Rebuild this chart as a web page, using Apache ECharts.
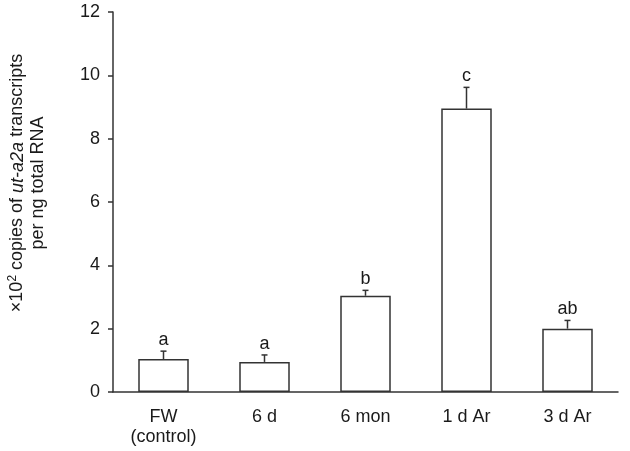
<!DOCTYPE html>
<html>
<head>
<meta charset="utf-8">
<script src="https://cdn.jsdelivr.net/npm/echarts@6/dist/echarts.min.js"></script>
<style>
  html, body { margin: 0; padding: 0; background: #fff; }
  #main { width: 630px; height: 451px; }
</style>
</head>
<body>
<div id="main"></div>
<script>
var groups = ['FW\n(control)', '6 d', '6 mon', '1 d Ar', '3 d Ar'];
var means = [1.04, 0.95, 3.04, 8.95, 2.0];
var errs = [0.25, 0.22, 0.17, 0.67, 0.26];
var letters = ['a', 'a', 'b', 'c', 'ab'];

var lineColor = '#333';
var textColor = '#1a1a1a';

var chart = echarts.init(document.getElementById('main'));

var errData = [];
for (var i = 0; i < groups.length; i++) {
  errData.push([i, means[i], errs[i], letters[i]]);
}

var option = {
  animation: false,
  grid: { left: 113, right: 12, top: 12, bottom: 59, outerBoundsMode: 'none', containLabel: false },
  xAxis: {
    type: 'category',
    data: groups,
    axisLine: { lineStyle: { color: lineColor, width: 1.5 } },
    axisTick: { show: false },
    axisLabel: {
      color: textColor,
      fontFamily: 'Liberation Sans',
      fontSize: 18,
      lineHeight: 20,
      margin: 15
    }
  },
  yAxis: {
    type: 'value',
    min: 0,
    max: 12,
    interval: 2,
    splitLine: { show: false },
    axisLine: { show: true, lineStyle: { color: lineColor, width: 1.5 } },
    axisTick: { show: true, length: 5, lineStyle: { color: lineColor, width: 1.5 } },
    axisLabel: {
      color: textColor,
      fontFamily: 'Liberation Sans',
      fontSize: 18,
      margin: 13
    },
    name: '{n|×10}{sup|2}{n| copies of }{i|ut-a2a}{n| transcripts}\n{n|per ng total RNA}',
    nameLocation: 'middle',
    nameGap: 64,
    nameRotate: 90,
    nameMoveOverlap: false,
    nameTextStyle: {
      padding: [0, 0, 0, 38],
      lineHeight: 21,
      rich: {
        n: { fontFamily: 'Liberation Sans', fontSize: 18, color: textColor, lineHeight: 21 },
        i: { fontFamily: 'Liberation Sans', fontSize: 18, fontStyle: 'italic', color: textColor, lineHeight: 21 },
        sup: { fontFamily: 'Liberation Sans', fontSize: 12, color: textColor, verticalAlign: 'top', lineHeight: 21, padding: [0, 0, 8, 0] }
      }
    }
  },
  series: [
    {
      type: 'bar',
      data: means,
      barWidth: '50%',
      itemStyle: { color: '#fff', borderColor: lineColor, borderWidth: 1.5 }
    },
    {
      type: 'custom',
      data: errData,
      z: 5,
      renderItem: function (params, api) {
        var idx = api.value(0);
        var m = api.value(1);
        var e = api.value(2);
        var lo = api.coord([idx, m]);
        var hi = api.coord([idx, m + e]);
        var cap = 3;
        return {
          type: 'group',
          children: [
            { type: 'line', shape: { x1: lo[0], y1: lo[1], x2: hi[0], y2: hi[1] }, style: { stroke: lineColor, lineWidth: 1.5 } },
            { type: 'line', shape: { x1: hi[0] - cap, y1: hi[1], x2: hi[0] + cap, y2: hi[1] }, style: { stroke: lineColor, lineWidth: 1.5 } },
            {
              type: 'text',
              style: {
                text: letters[params.dataIndex],
                x: hi[0],
                y: hi[1] - 2,
                align: 'center',
                verticalAlign: 'bottom',
                fill: textColor,
                font: '18px "Liberation Sans"'
              }
            }
          ]
        };
      }
    }
  ]
};

chart.setOption(option);
</script>
</body>
</html>
